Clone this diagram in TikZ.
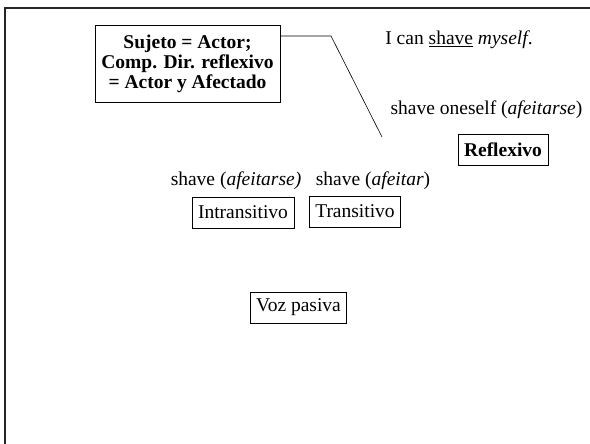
\documentclass[tikz,border=0pt]{standalone}
\usepackage{fontspec}
\setmainfont{Liberation Serif}
\usepackage{tikz}
\usetikzlibrary{calc}

\begin{document}
\begin{tikzpicture}[x=1pt, y=-1pt,
  box/.style={draw, line width=0.8pt, inner xsep=6pt, minimum height=31pt, font=\fontsize{19.5}{20}\selectfont},
  boldbox/.style={box, font=\bfseries\fontsize{19.5}{20}\selectfont},
  label/.style={inner sep=0pt, font=\fontsize{19.5}{20}\selectfont}]
\useasboundingbox (0,0) rectangle (590,444);
\draw[line width=2.5pt, black!85] (5,446) -- (5,8) -- (592,8);
% boxes
\node[boldbox, align=center, inner xsep=4pt, minimum width=185pt, minimum height=77pt] (suj) at (187.5,63.5)
  {Sujeto = Actor;\\Comp. Dir. reflexivo\\= Actor y Afectado};
\node[boldbox] (refl) at (503,150) {Reflexivo};
\node[box] (intr) at (243,212.5) {Intransitivo};
\node[box] (trans) at (355,211.5) {Transitivo};
\node[box] (pas) at (298.5,307.5) {Voz pasiva};
% texts
\node[label] (ej) at (459,40) {I can \underline{shave} \textit{myself}.};
\node[label] (sho) at (486.5,110) {shave oneself (\textit{afeitarse})};
\node[label] (shi) at (236,181) {shave (\textit{afeitarse)}};
\node[label] (sht) at (373,181) {shave (\textit{afeitar})};
% connector
\coordinate (k1) at (331,36);
\coordinate (k2) at (382,137);
\draw[line width=0.6pt] (suj.east |- k1) -- (k1) -- (k2);
\end{tikzpicture}
\end{document}
